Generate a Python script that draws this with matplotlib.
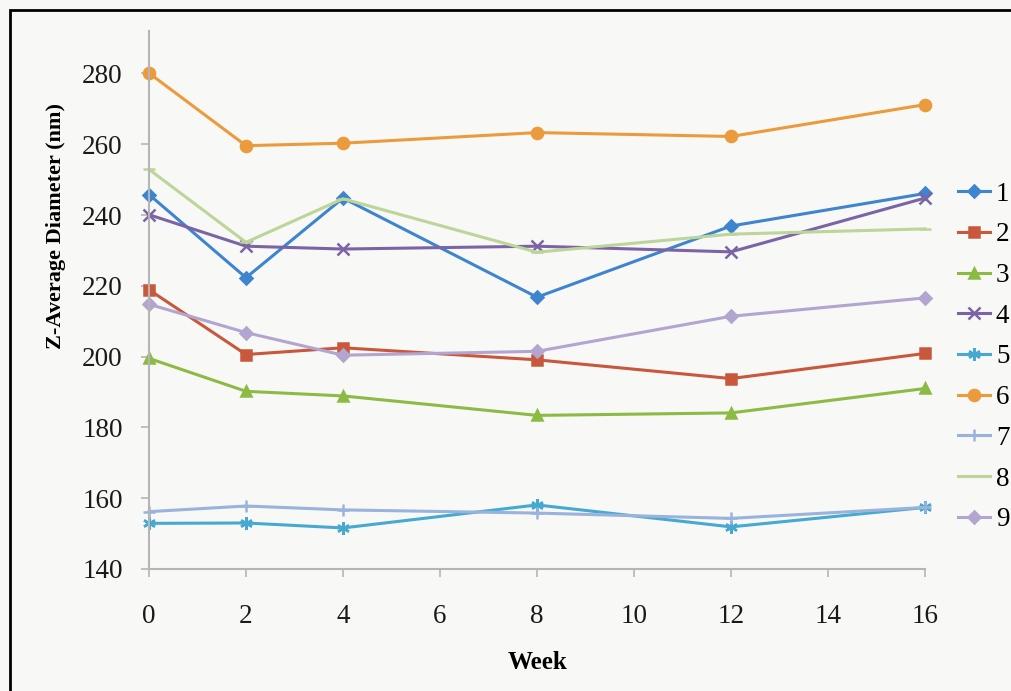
import matplotlib
matplotlib.use("Agg")
from matplotlib import pyplot as plt
from matplotlib.patches import Rectangle

weeks = [0, 2, 4, 8, 12, 16]
series_names = ["1", "2", "3", "4", "5", "6", "7", "8", "9"]

s1 = [245.8, 222.3, 244.8, 216.8, 236.9, 246.1]
s2 = [218.9, 200.6, 202.5, 199.1, 193.8, 200.9]
s3 = [199.5, 190.2, 188.9, 183.4, 184.1, 191.0]
s4 = [240.1, 231.2, 230.4, 231.2, 229.6, 244.8]
s5 = [152.9, 153.0, 151.6, 158.1, 151.9, 157.4]
s6 = [280.1, 259.6, 260.3, 263.3, 262.2, 271.2]
s7 = [156.2, 157.8, 156.7, 155.8, 154.3, 157.4]
s8 = [252.9, 232.3, 244.6, 229.5, 234.6, 236.1]
s9 = [214.8, 206.8, 200.4, 201.5, 211.4, 216.6]

values = [s1, s2, s3, s4, s5, s6, s7, s8, s9]
colors = ["#3d85cf", "#c9573c", "#8cbb45", "#7b64a6", "#45a9d2",
          "#eb9b3c", "#9ab3dc", "#bcd598", "#b2a5cf"]
markers = ["D", "s", "^", "x", (6, 2, 0), "o", "+", "_", "D"]
msizes = [6, 7, 7, 8, 9, 8, 9, 9, 6]

plt.rcParams["font.family"] = ["Liberation Serif", "DejaVu Serif"]

fig = plt.figure(figsize=(10.12, 6.91), dpi=100, facecolor="#f8f8f6")
ax = fig.add_axes([149 / 1012, 1 - 569 / 691, (925 - 149) / 1012, (569 - 31) / 691])
ax.set_facecolor("#f8f8f6")

for name, ys, c, m, ms in zip(series_names, values, colors, markers, msizes):
    ax.plot(weeks, ys, color=c, marker=m, markersize=ms, linewidth=2.2,
            markeredgewidth=1.8, label=name, clip_on=False)

ax.set_xlim(0, 16)
ax.set_ylim(140, 292)
ax.set_xticks(range(0, 17, 2))
ax.set_yticks(range(140, 281, 20))
for side in ["top", "right"]:
    ax.spines[side].set_visible(False)
for side in ["left", "bottom"]:
    ax.spines[side].set_color("#b5b5b5")
    ax.spines[side].set_linewidth(1.5)
ax.tick_params(axis="both", colors="#b5b5b5", length=6, width=1.2,
               labelsize=19.5, labelcolor="#1a1a1a")
ax.tick_params(axis="x", pad=19)
ax.tick_params(axis="y", pad=13)

ax.set_xlabel("Week", fontsize=18, fontweight="bold")
ax.xaxis.set_label_coords(0.5, -0.1747)
ax.xaxis.label.set_va("center")
ax.set_ylabel("Z-Average Diameter (nm)", fontsize=16, fontweight="bold")
ax.yaxis.set_label_coords(-0.12, 0.6375)
ax.yaxis.label.set_va("center")

leg = ax.legend(loc="upper left", bbox_to_anchor=(1.0425, 0.72), frameon=False,
                fontsize=19.5, handlelength=1.2, handletextpad=0.2,
                labelspacing=0.58, borderaxespad=0, borderpad=0)

# scanned page frame
fig.patches.append(Rectangle((10 / 1012, -0.1), 1.2, 1 - 10 / 691 + 0.1,
                             transform=fig.transFigure, fill=False,
                             edgecolor="black", linewidth=2))

fig.savefig("out.png", dpi=100, facecolor=fig.get_facecolor())
